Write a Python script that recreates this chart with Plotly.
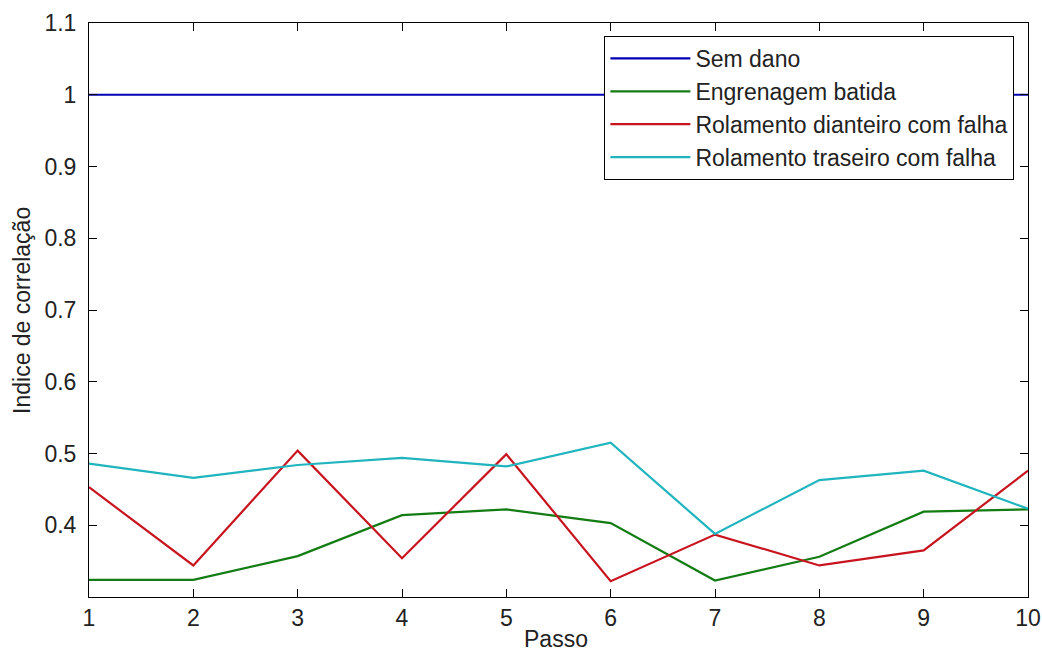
import plotly.graph_objects as go

# Steps and correlation index for each condition
passo = [1, 2, 3, 4, 5, 6, 7, 8, 9, 10]
sem_dano = [1, 1, 1, 1, 1, 1, 1, 1, 1, 1]
engrenagem_batida = [0.324, 0.324, 0.357, 0.414, 0.422, 0.403, 0.323, 0.356, 0.419, 0.422]
rolamento_dianteiro = [0.453, 0.344, 0.504, 0.354, 0.499, 0.322, 0.387, 0.344, 0.365, 0.476]
rolamento_traseiro = [0.486, 0.466, 0.484, 0.494, 0.482, 0.515, 0.388, 0.463, 0.476, 0.423]

y_ticks = [0.4, 0.5, 0.6, 0.7, 0.8, 0.9, 1.0, 1.1]
y_ticklabels = ["0.4", "0.5", "0.6", "0.7", "0.8", "0.9", "1", "1.1"]

series = [
    ("Sem dano", sem_dano, "#0000b4"),
    ("Engrenagem batida", engrenagem_batida, "#137c13"),
    ("Rolamento dianteiro com falha", rolamento_dianteiro, "#c8141e"),
    ("Rolamento traseiro com falha", rolamento_traseiro, "#1fb4be"),
]

fig = go.Figure()
for name, vals, color in series:
    fig.add_trace(go.Scatter(
        x=passo, y=vals, mode="lines", name=name,
        line=dict(color=color, width=2.2),
    ))

font_family = "Liberation Sans, Arial, sans-serif"
text_color = "#222222"
fs = 23

fig.update_layout(
    width=1042, height=657,
    margin=dict(l=89, r=14, t=23, b=60),
    paper_bgcolor="white", plot_bgcolor="white",
    font=dict(family=font_family, size=fs, color=text_color),
    showlegend=True,
    legend=dict(
        x=0.9855, y=0.9774, xanchor="right", yanchor="top",
        bgcolor="white", bordercolor="black", borderwidth=1,
        font=dict(size=fs, color=text_color),
        tracegroupgap=0, itemwidth=80,
    ),
    annotations=[
        dict(text="Passo", xref="paper", yref="paper", x=0.497, y=-0.0732,
             xanchor="center", yanchor="middle", showarrow=False,
             font=dict(size=fs, color=text_color)),
        dict(text="Indice de correlação", xref="paper", yref="paper",
             x=-0.0714, y=0.5, textangle=-90,
             xanchor="center", yanchor="middle", showarrow=False,
             font=dict(size=fs, color=text_color)),
    ],
)

fig.update_xaxes(
    range=[1, 10], tickvals=passo, ticktext=[str(p) for p in passo],
    ticks="inside", ticklen=8, tickcolor="black",
    showline=True, linecolor="black", linewidth=1, mirror="ticks",
    showgrid=False, zeroline=False, automargin=False,
    tickfont=dict(size=fs, color=text_color),
)
fig.update_yaxes(
    range=[0.3, 1.1], tickvals=y_ticks, ticktext=y_ticklabels,
    ticks="inside", ticklen=8, tickcolor="black",
    showline=True, linecolor="black", linewidth=1, mirror="ticks",
    showgrid=False, zeroline=False, automargin=False,
    ticklabelstandoff=7,
    tickfont=dict(size=fs, color=text_color),
)

fig.write_html("out.html")
